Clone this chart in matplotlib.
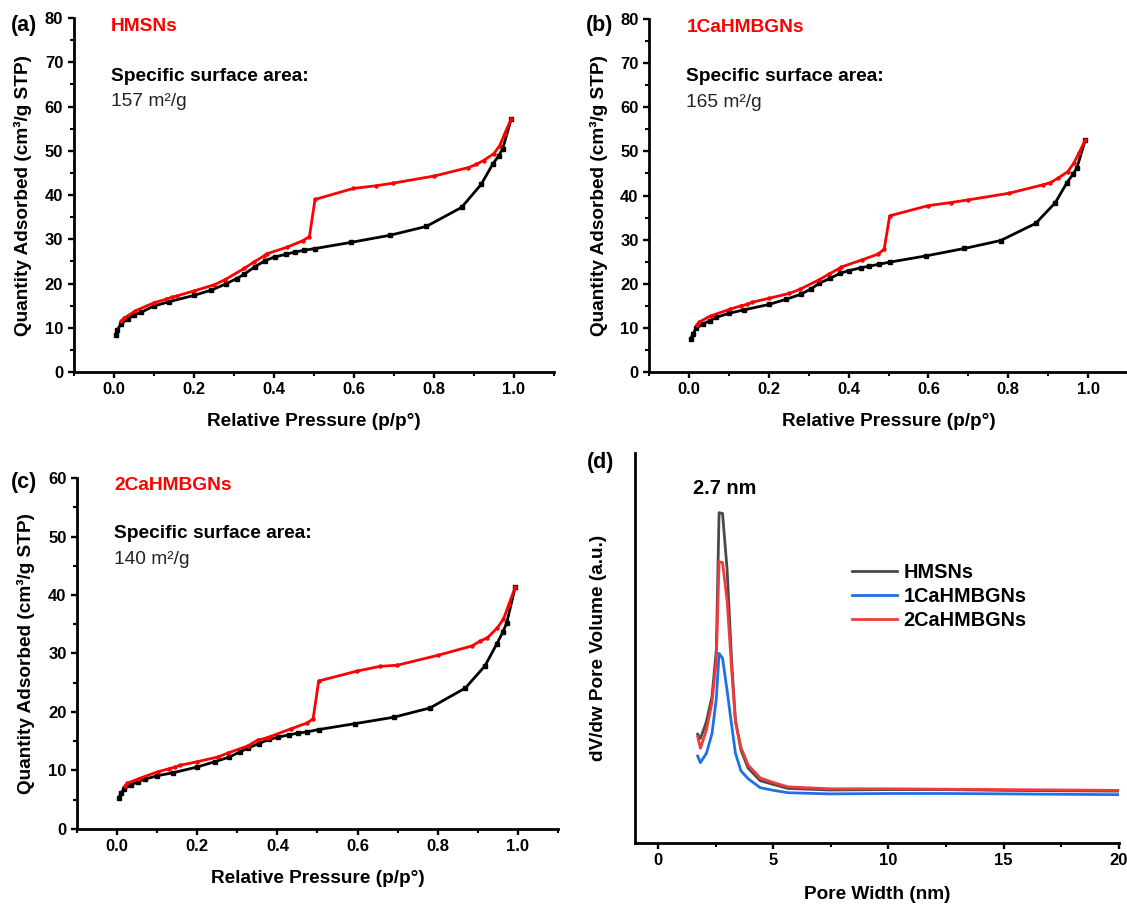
"""Nitrogen sorption isotherms and pore size distribution (4 panels)."""

import matplotlib
matplotlib.use("Agg")
import matplotlib.pyplot as plt
from matplotlib.ticker import MultipleLocator

# -----------------------------
# Data
# -----------------------------
adsPressure = [0.005, 0.009, 0.018, 0.035, 0.052, 0.069, 0.10, 0.139, 0.20, 0.244,
               0.28, 0.307, 0.326, 0.353, 0.379, 0.402, 0.43, 0.452, 0.475, 0.503,
               0.593, 0.69, 0.781, 0.869, 0.918, 0.947, 0.962, 0.972, 0.993]
desPressure = [0.993, 0.977, 0.964, 0.949, 0.924, 0.905, 0.886, 0.801, 0.699, 0.656,
               0.599, 0.503, 0.489, 0.473, 0.433, 0.382, 0.375, 0.351, 0.326, 0.277,
               0.251, 0.20, 0.158, 0.145, 0.13, 0.102, 0.054, 0.025, 0.019]

hmsnsAds = [8.3, 9.5, 10.8, 12.0, 12.9, 13.5, 14.9, 15.9, 17.3, 18.5,
            19.9, 21.1, 22.1, 23.8, 25.2, 26.0, 26.6, 27.1, 27.5, 27.9,
            29.3, 30.9, 32.9, 37.2, 42.4, 47.0, 48.9, 50.5, 57.2]
hmsnsDes = [57.2, 53.9, 51.1, 49.3, 47.8, 46.9, 46.2, 44.3, 42.7, 42.1,
            41.5, 39.0, 30.6, 29.7, 28.2, 26.7, 26.2, 24.9, 23.4, 20.8,
            19.7, 18.3, 17.2, 16.9, 16.4, 15.7, 13.8, 12.1, 11.5]

caOneAds = [7.4, 8.5, 9.9, 10.9, 11.6, 12.4, 13.3, 14.1, 15.3, 16.5,
            17.6, 18.9, 20.1, 21.2, 22.4, 23.0, 23.6, 24.0, 24.4, 24.9,
            26.3, 28.0, 29.8, 33.7, 38.4, 42.9, 44.8, 46.3, 52.6]
caOneDes = [52.6, 49.6, 47.3, 45.4, 43.9, 42.9, 42.4, 40.5, 39.0, 38.4,
            37.7, 35.4, 27.8, 26.7, 25.4, 23.8, 23.4, 22.2, 20.9, 18.7,
            17.8, 16.7, 15.8, 15.3, 15.0, 14.2, 12.7, 11.3, 10.6]

caTwoAds = [5.3, 6.1, 6.9, 7.5, 8.1, 8.5, 9.1, 9.6, 10.6, 11.5,
            12.3, 13.2, 13.8, 14.6, 15.3, 15.7, 16.1, 16.4, 16.6, 17.0,
            18.0, 19.1, 20.7, 24.1, 27.9, 31.6, 33.6, 35.2, 41.3]
caTwoDes = [41.3, 38.3, 35.9, 34.4, 32.7, 32.1, 31.3, 29.7, 28.0, 27.8,
            27.0, 25.3, 18.8, 18.1, 17.1, 15.8, 15.6, 15.2, 14.2, 13.0,
            12.3, 11.5, 10.9, 10.6, 10.3, 9.8, 8.6, 7.8, 7.3]

sampleNames = ["HMSNs", "1CaHMBGNs", "2CaHMBGNs"]
surfaceAreas = ["157", "165", "140"]
panelLetters = ["(a)", "(b)", "(c)", "(d)"]

poreWidth = [1.72, 1.84, 2.10, 2.34, 2.53, 2.65, 2.80, 3.00, 3.20, 3.36, 3.60,
             3.91, 4.43, 5.01, 5.64, 7.45, 10.0, 12.5, 15.0, 17.5, 20.0]
hmsnsPsd = [0.279, 0.268, 0.311, 0.375, 0.495, 0.847, 0.845, 0.70, 0.46, 0.315, 0.238,
            0.192, 0.160, 0.150, 0.140, 0.136, 0.137, 0.137, 0.135, 0.134, 0.133]
caOnePsd = [0.223, 0.206, 0.23, 0.28, 0.37, 0.486, 0.474, 0.39, 0.30, 0.23, 0.185,
            0.165, 0.142, 0.135, 0.129, 0.126, 0.127, 0.127, 0.126, 0.125, 0.124]
caTwoPsd = [0.273, 0.243, 0.29, 0.36, 0.47, 0.721, 0.719, 0.62, 0.44, 0.31, 0.245,
            0.20, 0.167, 0.155, 0.144, 0.139, 0.139, 0.138, 0.137, 0.136, 0.135]

plt.rcParams["font.family"] = ["Liberation Sans", "DejaVu Sans"]
plt.rcParams["font.weight"] = "bold"

redColor = "#ff0000"
labelSize = 13.7
textSize = 13.8


def styleAxes(ax):
    """Origin-like axes: left and bottom spines, outward ticks."""
    for side in ["top", "right"]:
        ax.spines[side].set_visible(False)
    for side in ["left", "bottom"]:
        ax.spines[side].set_linewidth(2.0)
    ax.tick_params(which="major", direction="out", length=4.5, width=1.7,
                   labelsize=12, pad=3)
    ax.tick_params(which="minor", direction="out", length=2.8, width=1.5)
    for label in ax.get_xticklabels() + ax.get_yticklabels():
        label.set_fontweight("bold")


def plotIsotherm(ax, adsValues, desValues, yMax, name, area, textY):
    ax.plot(adsPressure, adsValues, color="black", lw=2.0, marker="s", ms=2.2)
    ax.plot(desPressure, desValues, color=redColor, lw=2.0, marker="o", ms=2.2)
    ax.set_xlim(-0.1, 1.1)
    ax.set_ylim(0, yMax)
    ax.xaxis.set_major_locator(MultipleLocator(0.2))
    ax.xaxis.set_minor_locator(MultipleLocator(0.1))
    ax.yaxis.set_major_locator(MultipleLocator(10))
    ax.yaxis.set_minor_locator(MultipleLocator(5))
    ax.set_xticks([0.0, 0.2, 0.4, 0.6, 0.8, 1.0])
    styleAxes(ax)
    ax.set_xlabel("Relative Pressure (p/p°)", fontsize=labelSize, fontweight="bold")
    ax.set_ylabel("Quantity Adsorbed (cm³/g STP)", fontsize=labelSize, fontweight="bold")
    ax.xaxis.set_label_coords(0.5, -0.14)
    ax.xaxis.label.set_va("center")
    ax.yaxis.set_label_coords(-0.105, 0.5)
    ax.yaxis.label.set_va("center")

    ax.text(0.078, textY[0], name, transform=ax.transAxes, color=redColor,
            fontsize=textSize, fontweight="bold", va="center")
    ax.text(0.078, textY[1], "Specific surface area:", transform=ax.transAxes,
            color="black", fontsize=textSize, fontweight="bold", va="center")
    ax.text(0.078, textY[2], area + " m²/g", transform=ax.transAxes,
            color="#222222", fontsize=textSize, fontweight="normal", va="center")


def plotPoreSize(ax):
    ax.plot(poreWidth, hmsnsPsd, color="#4a4a4a", lw=2.0, label=sampleNames[0])
    ax.plot(poreWidth, caOnePsd, color="#1f6fe5", lw=2.0, label=sampleNames[1])
    ax.plot(poreWidth, caTwoPsd, color="#ef3b3b", lw=2.0, label=sampleNames[2])
    ax.set_xlim(-1, 20)
    ax.set_ylim(0, 1.0)
    ax.xaxis.set_major_locator(MultipleLocator(5))
    ax.xaxis.set_minor_locator(MultipleLocator(2.5))
    ax.set_yticks([])
    styleAxes(ax)
    ax.set_xlabel("Pore Width (nm)", fontsize=labelSize, fontweight="bold")
    ax.set_ylabel("dV/dw Pore Volume (a.u.)", fontsize=labelSize, fontweight="bold")
    ax.xaxis.set_label_coords(0.5, -0.133)
    ax.xaxis.label.set_va("center")
    ax.yaxis.set_label_coords(-0.076, 0.5)
    ax.yaxis.label.set_va("center")
    ax.text(0.186, 0.91, "2.7 nm", transform=ax.transAxes, fontsize=14.3,
            fontweight="bold", ha="center", va="center")
    ax.legend(loc="upper left", bbox_to_anchor=(0.448, 0.717), frameon=False,
              borderpad=0, borderaxespad=0, handlelength=2.3, handletextpad=0.3,
              labelspacing=0.25, prop={"size": 14.3, "weight": "bold"})


def main():
    fig = plt.figure(figsize=(11.27, 9.06), dpi=100)
    axA = fig.add_axes([0.0653, 0.5894, 0.4263, 0.3907])
    axB = fig.add_axes([0.5759, 0.5894, 0.4250, 0.3896])
    axC = fig.add_axes([0.0683, 0.0850, 0.4268, 0.3874])
    axD = fig.add_axes([0.5634, 0.0695, 0.4295, 0.4305])

    plotIsotherm(axA, hmsnsAds, hmsnsDes, 80, sampleNames[0], surfaceAreas[0],
                 [0.975, 0.836, 0.763])
    plotIsotherm(axB, caOneAds, caOneDes, 80, sampleNames[1], surfaceAreas[1],
                 [0.975, 0.836, 0.763])
    plotIsotherm(axC, caTwoAds, caTwoDes, 60, sampleNames[2], surfaceAreas[2],
                 [0.98, 0.843, 0.769])
    plotPoreSize(axD)

    labelSpots = [(24, 25), (600, 25), (24, 483), (601, 463)]
    for letter, (xPix, yPix) in zip(panelLetters, labelSpots):
        fig.text(xPix / 1127, 1 - yPix / 906, letter, fontsize=15.5,
                 fontweight="bold", ha="center", va="center")

    fig.savefig("out.png", dpi=100)


if __name__ == "__main__":
    main()
